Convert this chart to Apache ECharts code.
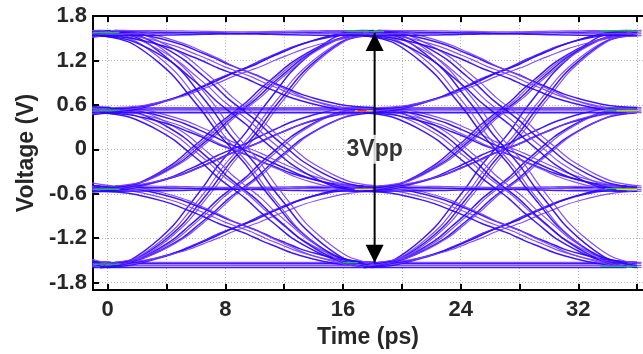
<!DOCTYPE html>
<html><head><meta charset="utf-8">
<script src="https://cdn.jsdelivr.net/npm/echarts@6/dist/echarts.min.js"></script>
<style>html,body{margin:0;padding:0;background:#fff}#c{width:643px;height:354px}</style>
</head><body><div id="c"></div>
<script>
// ---- axis ticks / labels
const xTicks = [0, 4, 8, 12, 16, 20, 24, 28, 32, 36];
const xLabels = [0, 8, 16, 24, 32];
const yTicks = [-1.8, -1.2, -0.6, 0, 0.6, 1.2, 1.8];
// ---- PAM4 eye
const levels = [-1.56, -0.53, 0.53, 1.57];          // V, symbol levels
const uiStarts = [-17.9, 0, 17.9];                  // ps, eye centres where each UI segment starts
const stepTime = [0, 1, 2, 3, 4, 5, 6, 7, 8, 8.95, 9.9, 10.9, 11.9, 12.9, 13.9, 14.9, 15.9, 16.9, 17.9]; // ps into UI
const stepFraction = [0, 0.01, 0.03, 0.07, 0.12, 0.18, 0.26, 0.34, 0.43, 0.5, 0.57, 0.66, 0.74, 0.82, 0.88, 0.93, 0.97, 0.99, 1];
const timeSkew = [-0.5, -0.15, 0.2, 0.5];           // ps spread of traces in a band
const levelSpread = [-0.035, -0.01, 0.015, 0.035];  // V spread of traces at a level
// dense (colour-graded) spots: [t start, t end, level]
const greenSpots = [[-1, 0.8, 1.58], [-1, 0.8, 0.53], [-1, 0.8, -0.54], [-1, 0.8, -1.55], [16.2, 18.8, 1.59], [16.0, 17.0, -1.53], [33.5, 36, 1.6], [33.8, 36, 0.53], [33.8, 36, -0.53], [33.5, 36, -1.58]];
const yellowSpots = [[16.8, 18.0, 0.52], [16.8, 18.0, -0.54], [34.6, 36, 0.52], [34.6, 36, -0.54]];
const redSpots = [[17.0, 17.6, 0.52]];
// annotation
const arrowTime = 18.15, arrowTop = 1.57, arrowBottom = -1.53;
const annotationText = '3Vpp';

const chart = echarts.init(document.getElementById('c'), null, {renderer: 'canvas'});
const series = [];
const traceColors = ['#2b06ff', '#7d40ff'];
const traceWidths = [1.5, 1.2];
uiStarts.forEach(u => {
  levels.forEach((a, i) => {
    levels.forEach((b, j) => {
      timeSkew.forEach((s, k) => {
        const A = a + levelSpread[k];
        const B = b + levelSpread[(k + i + j) % levelSpread.length];
        series.push({
          type: 'line', silent: true, symbol: 'none', smooth: 0.3,
          lineStyle: {width: traceWidths[k % 2], color: traceColors[k % 2], opacity: 0.92},
          data: stepTime.map((t, n) => [u + t + s, A + (B - A) * stepFraction[n]]),
          z: 2
        });
      });
    });
  });
});
function spotSeries(list, color, width) {
  list.forEach(p => series.push({
    type: 'line', silent: true, symbol: 'none',
    lineStyle: {width: width, color: color},
    data: [[p[0], p[2]], [p[1], p[2]]], z: 3
  }));
}
spotSeries(greenSpots, '#12c43c', 1.3);
spotSeries(yellowSpots, '#e6e600', 1.3);
spotSeries(redSpots, '#ff2a1a', 1.5);
// arrow
series.push({
  type: 'line', silent: true, z: 5,
  lineStyle: {color: '#000', width: 2},
  symbol: 'triangle', symbolSize: [18, 18],
  itemStyle: {color: '#000'},
  data: [
    {value: [arrowTime, arrowTop], symbolOffset: [0, 9]},
    {value: [arrowTime, arrowBottom], symbolRotate: 180, symbolOffset: [0, -9]}
  ]
});
series.push({
  type: 'scatter', silent: true, z: 6, symbolSize: 0,
  data: [[arrowTime, 0]],
  label: {show: true, position: 'inside', formatter: annotationText, fontFamily: 'Liberation Sans, Arial, sans-serif',
          fontWeight: 'bold', fontSize: 23, color: '#000', backgroundColor: '#fff', padding: [3, 1]}
});

const axisFont = {fontFamily: 'Liberation Sans, Arial, sans-serif', fontWeight: 'bold', color: '#262626'};
const grid = {left: 93, right: -14, top: 16, bottom: 58, containLabel: false};
const option = {
  animation: false,
  backgroundColor: '#fff',
  grid: grid,
  xAxis: [{
    type: 'value', min: -1.0, max: 36.4, position: 'bottom',
    name: 'Time (ps)', nameLocation: 'middle', nameGap: 33,
    nameTextStyle: Object.assign({fontSize: 23}, axisFont),
    axisLine: {show: true, onZero: false, lineStyle: {color: '#000', width: 2}},
    axisTick: {show: true, inside: true, length: 6, customValues: xTicks, lineStyle: {color: '#000', width: 2}},
    axisLabel: Object.assign({show: true, customValues: xLabels, fontSize: 22, margin: 9}, axisFont),
    splitLine: {show: true, lineStyle: {color: '#b4b4b4', width: 1, type: [1, 2]}}
  }, {
    type: 'value', min: -1.0, max: 36.4, position: 'top',
    axisLine: {show: true, onZero: false, lineStyle: {color: '#000', width: 2}},
    axisTick: {show: true, inside: true, length: 6, customValues: xTicks, lineStyle: {color: '#000', width: 2}},
    axisLabel: {show: false},
    splitLine: {show: false}
  }],
  yAxis: {
    type: 'value', min: -1.9, max: 1.8,
    name: 'Voltage (V)', nameLocation: 'middle', nameGap: 49,
    nameTextStyle: Object.assign({fontSize: 23}, axisFont),
    axisLine: {show: true, onZero: false, lineStyle: {color: '#000', width: 2}},
    axisTick: {show: true, inside: true, length: 6, customValues: yTicks, lineStyle: {color: '#000', width: 2}},
    axisLabel: Object.assign({show: true, customValues: yTicks, fontSize: 22, margin: 6, formatter: v => String(v)}, axisFont),
    splitLine: {show: true, lineStyle: {color: '#b4b4b4', width: 1, type: [1, 2]}}
  },
  series: series
};
chart.setOption(option);
</script></body></html>
